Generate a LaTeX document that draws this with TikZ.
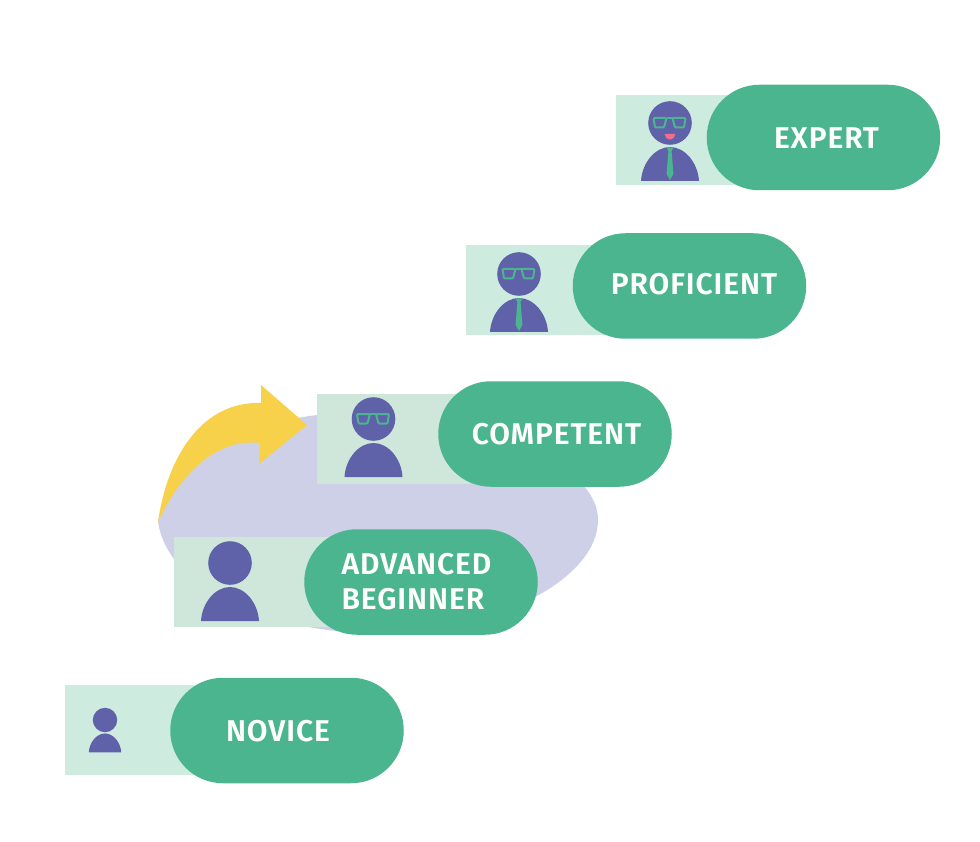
\documentclass[tikz,border=0pt]{standalone}
\usepackage{fontspec}
\setmainfont{Fira Sans}[BoldFont={Fira Sans SemiBold},BoldFeatures={LetterSpace=3}]
\usetikzlibrary{shapes.misc}
\definecolor{pillgreen}{HTML}{4AB58E}
\definecolor{boxgreen}{HTML}{CDEBDF}
\definecolor{boxgrey}{HTML}{CFE6DB}
\definecolor{personblue}{HTML}{6062A9}
\definecolor{blobblue}{HTML}{CDD0E6}
\definecolor{arrowyellow}{HTML}{F8D14B}
\definecolor{smilepink}{HTML}{F26D8E}
\tikzset{
  x=1pt,y=-1pt,
  pillbox/.style={shape=rounded rectangle,fill=pillgreen,minimum width=233.5pt,minimum height=105.5pt,inner sep=0pt},
  labeltext/.style={text=white,font=\fontsize{30}{35.5}\selectfont\bfseries,align=left,inner sep=0pt},
  lens/.style={draw=pillgreen,line width=2pt,line join=round,rounded corners=1pt},
  person/.pic={
    \fill[personblue] (0,0) circle[radius=21.8];
    \fill[personblue] (-29,58) .. controls (-28,40) and (-15,24) .. (0,24) .. controls (15,24) and (28,40) .. (29,58) -- cycle;
  },
  glasses/.pic={
    \draw[lens] (-16.5,-5) -- (-3.5,-5) -- (-6,4.5) -- (-15,4.5) -- cycle;
    \draw[lens] (15.5,-5) -- (2.5,-5) -- (5,4.5) -- (14,4.5) -- cycle;
    \draw[pillgreen,line width=2pt] (-3.5,-5) -- (2.5,-5);
  },
  tie/.pic={
    \fill[pillgreen] (-3.3,24.5) -- (3.3,24.5) -- (1.6,28) -- (3.4,51) -- (0,57) -- (-3.4,51) -- (-1.6,28) -- cycle;
  },
  smile/.pic={
    \fill[smilepink] (-5.3,11) -- (5.3,11) arc[start angle=0,end angle=-180,radius=5.3,y radius=-5.6] -- cycle;
  }
}
\begin{document}
\begin{tikzpicture}
\useasboundingbox (0,0) rectangle (980,842);
% blob
\fill[blobblue] (158,522) .. controls (170,470) and (250,418) .. (330,414)
  .. controls (430,408) and (598,450) .. (598,520)
  .. controls (598,578) and (500,628) .. (400,632)
  .. controls (300,640) and (170,600) .. (158,522) -- cycle;
% arrow
\fill[arrowyellow] (158,522) .. controls (168,452) and (205,401) .. (261,403)
  -- (261,385) -- (307,425) -- (259,464) -- (260,443)
  .. controls (218,438) and (181,472) .. (158,522) -- cycle;
% expert
\fill[boxgreen] (616,95) rectangle (760,185);
\node[pillbox] (expertpill) at (823.5,137.5) {};
\node[labeltext] (experttext) at (826.5,138) {EXPERT};
\pic at (670,123) {person};
\pic at (670,123) {tie};
\pic at (670,123) {glasses};
\pic at (670,123) {smile};
% proficient
\fill[boxgreen] (466,245) rectangle (610,335);
\node[pillbox] (proficientpill) at (689.5,286) {};
\node[labeltext] (proficienttext) at (694,284.5) {PROFICIENT};
\pic at (519,274) {person};
\pic at (519,274) {tie};
\pic at (519,274) {glasses};
% competent
\fill[boxgrey] (317,393.5) rectangle (470,484);
\node[pillbox] (competentpill) at (555,434) {};
\node[labeltext] (competenttext) at (556.5,434.5) {COMPETENT};
\pic at (373.5,419) {person};
\pic at (373.5,419) {glasses};
% advanced beginner
\fill[boxgrey] (174,537) rectangle (340,627);
\node[pillbox] (advancedpill) at (421,582) {};
\node[labeltext] (advancedtext) at (416.5,581.5) {ADVANCED\\BEGINNER};
\pic at (230,563) {person};
% novice
\fill[boxgreen] (65,685) rectangle (230,775);
\node[pillbox] (novicepill) at (287,730.5) {};
\node[labeltext] (novicetext) at (278,731) {NOVICE};
\pic[scale=0.56] at (105,720) {person};
\end{tikzpicture}
\end{document}
